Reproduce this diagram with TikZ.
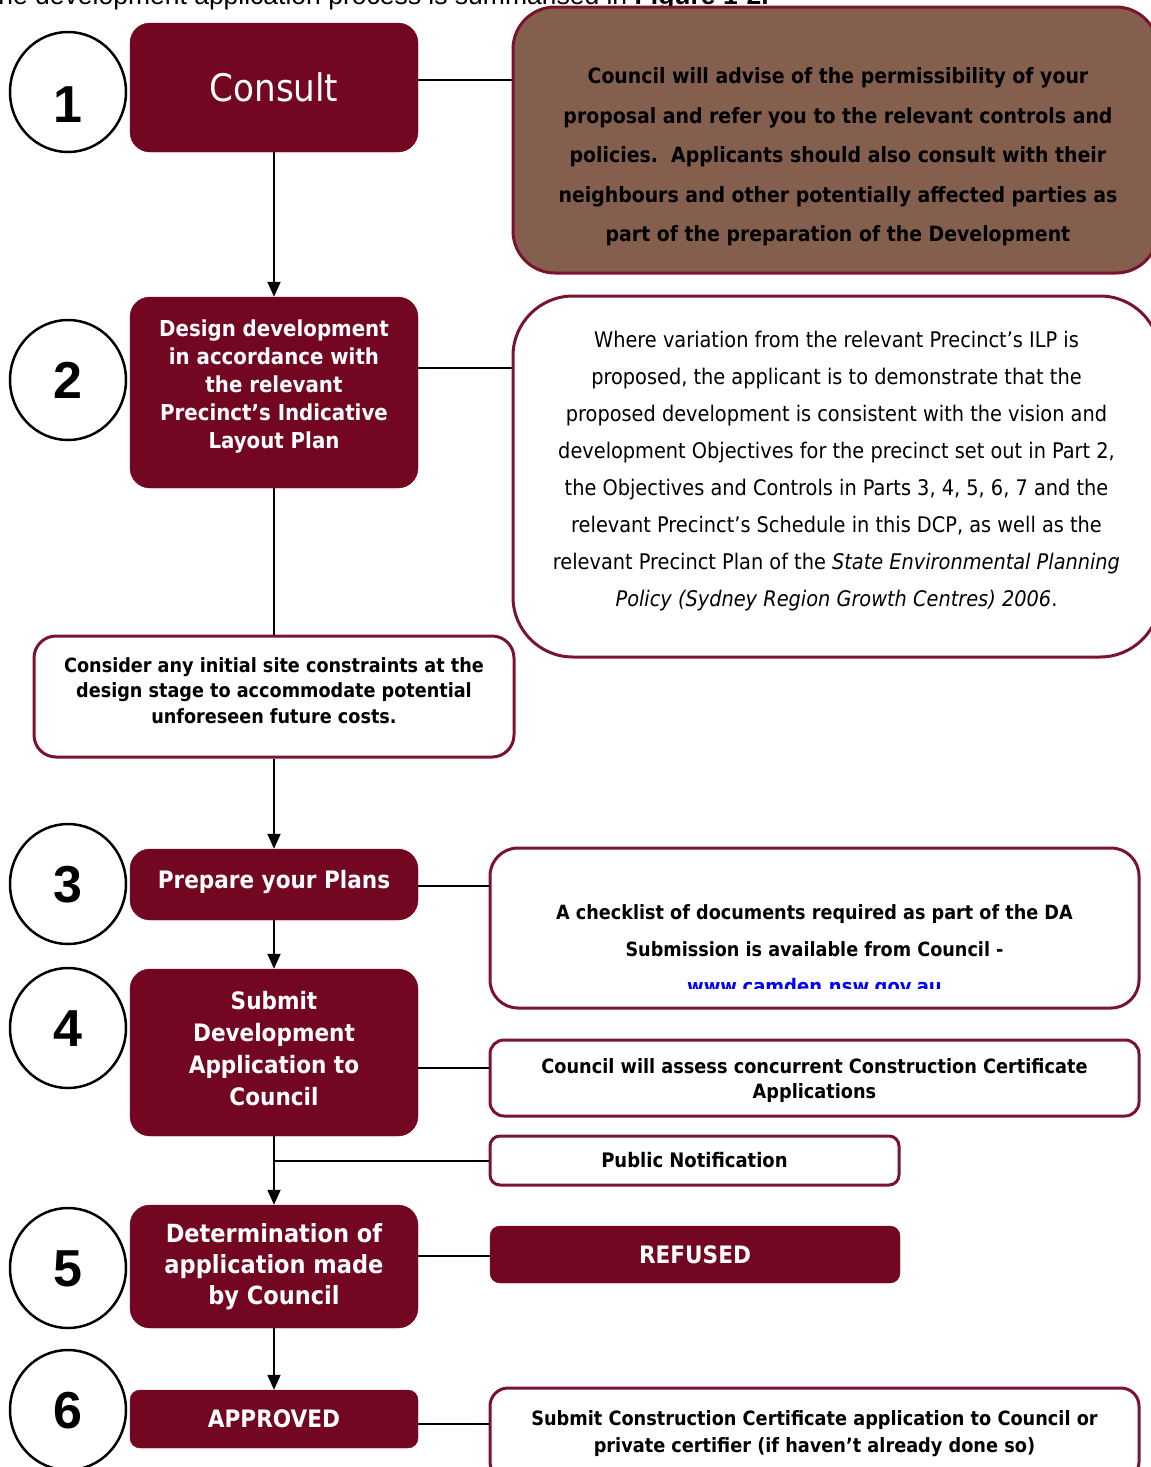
\documentclass[tikz,border=0pt]{standalone}
\usepackage{fontspec}
\setmainfont{DejaVu Sans Condensed}
\newfontfamily\numfont{Liberation Sans}
\usetikzlibrary{arrows.meta,shapes.geometric,positioning}

\definecolor{wine}{RGB}{115,7,33}
\definecolor{wineline}{RGB}{122,20,45}
\definecolor{clay}{RGB}{132,95,77}
\definecolor{weblink}{RGB}{0,0,255}

% invisible struts to nudge a block of lines up (tailgap) or down (headgap)
\newcommand\tailgap[1]{\rule[-#1]{0pt}{#1}}
\newcommand\headgap[1]{\rule{0pt}{#1}}

\tikzset{
  stagebox/.style={fill=wine, draw=wine, rounded corners=20pt, text=white,
    align=center, inner sep=0pt, minimum width=288pt},
  notebox/.style={draw=wineline, line width=3pt, fill=white, rounded corners=16pt,
    align=center, inner sep=0pt, text=black},
  numring/.style={draw, ellipse, line width=2.5pt, inner sep=0pt,
    minimum width=116pt, minimum height=120pt, text depth=0pt,
    font=\numfont\bfseries\fontsize{52}{52}\selectfont},
  link/.style={line width=2pt},
  flow/.style={line width=1.8pt, -{Triangle[length=15pt,width=13pt]}},
}

\begin{document}
\begin{tikzpicture}[x=1pt,y=-1pt]
  \useasboundingbox (0,0) rectangle (1151,1467);

  % text of the page above the figure, cut by the crop
  \node[anchor=base west, inner sep=0pt, font=\numfont\fontsize{26.5}{26.5}\selectfont]
    (intro) at (-18,4) {The development application process is summarised in \textbf{Figure 1-2.}};

  % step numbers
  \foreach \k/\yy/\th in {1/92/61,2/380/37,3/884/37,4/1028/37,5/1268/37,6/1410/37}
    \node[numring, text height=\th pt] (n\k) at (68,\yy) {\k};

  % main steps
  \node[stagebox, minimum height=129pt, font=\fontsize{38}{40}\selectfont]
    (consult) at (274,87.5) {Consult};
  \node[stagebox, minimum height=191pt, font=\bfseries\fontsize{22}{28}\selectfont]
    (design) at (274,392.5) {Design development\\in accordance with\\the relevant\\Precinct’s Indicative\\Layout Plan\tailgap{17pt}};
  \node[notebox, minimum width=480pt, minimum height=121pt, rounded corners=22pt,
    font=\bfseries\fontsize{19.6}{25.5}\selectfont]
    (consider) at (274,696.5) {Consider any initial site constraints at the\\design stage to accommodate potential\\unforeseen future costs.\tailgap{12pt}};
  \node[stagebox, minimum height=71pt, font=\bfseries\fontsize{24}{26}\selectfont]
    (prep) at (274,884.5) {Prepare your Plans\tailgap{11pt}};
  \node[stagebox, minimum height=167pt, font=\bfseries\fontsize{24}{32}\selectfont]
    (submit) at (274,1052.5) {Submit\\Development\\Application to\\Council\tailgap{8pt}};
  \node[stagebox, minimum height=123pt, font=\bfseries\fontsize{25}{31}\selectfont]
    (determ) at (274,1266.5) {Determination of\\application made\\by Council};
  \node[stagebox, minimum height=58pt, rounded corners=10pt, font=\bfseries\fontsize{24}{26}\selectfont]
    (approved) at (274,1419) {APPROVED};

  % notes on the right
  \node[notebox, fill=clay, minimum width=645pt, minimum height=266pt, rounded corners=42pt]
    (cnote) at (835.5,140) {};
  \node[align=center, inner sep=0pt, font=\bfseries\fontsize{21}{39.5}\selectfont]
    (cnotetext) at (838,157) {Council will advise of the permissibility of your\\
      proposal and refer you to the relevant controls and\\
      policies.\ \ Applicants should also consult with their\\
      neighbours and other potentially affected parties as\\
      part of the preparation of the Development};
  \node[notebox, minimum width=647pt, minimum height=361pt, rounded corners=60pt,
    font=\fontsize{21.5}{37}\selectfont]
    (vnote) at (836.5,476.5) {Where variation from the relevant Precinct’s ILP is\\
      proposed, the applicant is to demonstrate that the\\
      proposed development is consistent with the vision and\\
      development Objectives for the precinct set out in Part 2,\\
      the Objectives and Controls in Parts 3, 4, 5, 6, 7 and the\\
      relevant Precinct’s Schedule in this DCP, as well as the\\
      relevant Precinct Plan of the \textit{State Environmental Planning}\\
      \textit{Policy (Sydney Region Growth Centres) 2006}.\tailgap{16pt}};
  \node[notebox, minimum width=649pt, minimum height=160pt, rounded corners=28pt,
    font=\bfseries\fontsize{19.6}{37}\selectfont]
    (checklist) at (814.5,928) {\headgap{21pt}A checklist of documents required as part of the DA\\
      Submission is available from Council -};
  \begin{scope}
    \clip (490,848) rectangle (1139,988);
    \node[inner sep=0pt, text=weblink, font=\bfseries\fontsize{20}{24}\selectfont]
      (weburl) at (814.5,989) {\underline{www.camden.nsw.gov.au}};
  \end{scope}
  \node[notebox, minimum width=649pt, minimum height=76pt, rounded corners=14pt,
    font=\bfseries\fontsize{19.7}{25}\selectfont]
    (concurrent) at (814.5,1078) {\headgap{21pt}Council will assess concurrent Construction Certificate\\Applications};
  \node[notebox, minimum width=409pt, minimum height=49pt, rounded corners=10pt,
    font=\bfseries\fontsize{20}{22}\selectfont]
    (public) at (694.5,1160.5) {Public Notification};
  \node[stagebox, minimum width=410pt, minimum height=57pt, rounded corners=10pt,
    font=\bfseries\fontsize{24}{26}\selectfont]
    (refused) at (695,1254.5) {REFUSED};
  \node[notebox, minimum width=649pt, minimum height=92pt, rounded corners=18pt,
    font=\bfseries\fontsize{19.7}{27}\selectfont]
    (ccnote) at (814.5,1434) {Submit Construction Certificate application to Council or\\
      private certifier (if haven’t already done so)};

  % side links
  \coordinate (j1) at ([yshift=7.5pt]consult.east);
  \coordinate (j2) at ([yshift=24.5pt]design.east);
  \coordinate (j3) at ([yshift=-1.5pt]prep.east);
  \coordinate (j4) at ([yshift=-15.5pt]submit.east);
  \coordinate (j5) at ([yshift=10.5pt]determ.east);
  \coordinate (j6) at ([yshift=-5pt]approved.east);
  \draw[link] (j1) -- (j1 -| cnote.west);
  \draw[link] (j2) -- (j2 -| vnote.west);
  \draw[link] (j3) -- (j3 -| checklist.west);
  \draw[link] (j4) -- (j4 -| concurrent.west);
  \draw[link] (submit.south |- public.west) -- (public.west);
  \draw[link] (j5) -- (j5 -| refused.west);
  \draw[link] (j6) -- (j6 -| ccnote.west);

  % main flow
  \draw[flow] (consult) -- (design);
  \draw[link] (design) -- (consider);
  \draw[flow] (consider) -- (prep);
  \draw[flow] (prep) -- (submit);
  \draw[flow] (submit) -- (determ);
  \draw[flow] (determ) -- (approved);
\end{tikzpicture}
\end{document}
